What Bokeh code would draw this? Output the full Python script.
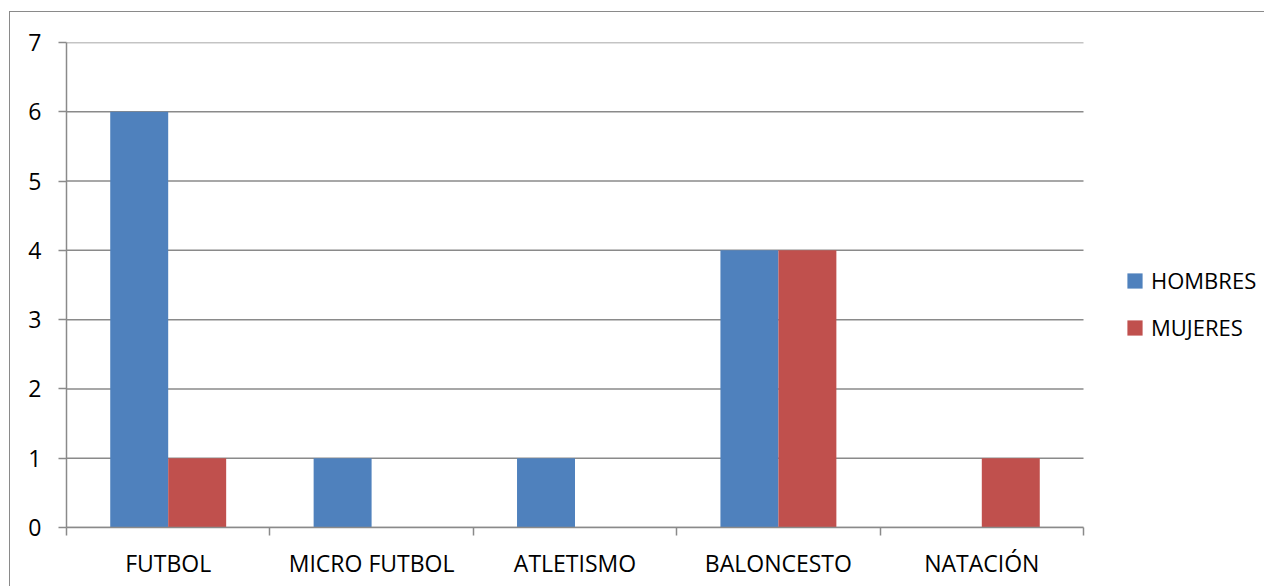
from bokeh.plotting import figure
from bokeh.models import (Range1d, FixedTicker, Legend, LegendItem)
from bokeh.embed import file_html
from bokeh.resources import INLINE

categories = ["FUTBOL", "MICRO FUTBOL", "ATLETISMO", "BALONCESTO", "NATACIÓN"]
hombres = [6, 1, 1, 4, 0]
mujeres = [1, 0, 0, 4, 1]
y_ticks = [0, 1, 2, 3, 4, 5, 6, 7]

FONT = "Open Sans"
FS = "23px"
GRID = "#8a8a8a"
BLUE = "#4F81BD"
RED = "#C0504D"

n = len(categories)
# frame extends under the legend area; the category area covers 0..n
x_end = n * (1254 - 56) / 1017.0

p = figure(width=1254, height=574, output_backend="svg", toolbar_location=None,
           x_range=Range1d(0, x_end), y_range=Range1d(0, 7),
           min_border_left=56, min_border_right=0, min_border_top=30,
           min_border_bottom=59)
p.margin = (12, 0, 0, 10)
p.styles = {"outline": "1.5px solid #8a8a8a"}
p.outline_line_color = None
p.background_fill_color = "white"
p.border_fill_color = "white"

# horizontal grid lines over the category area only
p.segment(x0=[0] * len(y_ticks), x1=[n] * len(y_ticks), y0=y_ticks, y1=y_ticks,
          line_color=GRID, line_width=1.5)

centers = [i + 0.5 for i in range(n)]
off = 0.1425
bw = 0.285
r1 = p.vbar(x=[c - off for c in centers], top=hombres, width=bw, fill_color=BLUE, line_color=None)
r2 = p.vbar(x=[c + off for c in centers], top=mujeres, width=bw, fill_color=RED, line_color=None)

# x axis
xa = p.xaxis[0]
xa.bounds = (0, n)
xa.ticker = FixedTicker(ticks=centers, minor_ticks=list(range(n + 1)))
xa.major_label_overrides = {c: nm for c, nm in zip(centers, categories)}
xa.major_tick_line_color = None
xa.major_tick_out = 0
xa.major_tick_in = 0
xa.minor_tick_line_color = GRID
xa.minor_tick_line_width = 1.5
xa.minor_tick_out = 8
xa.minor_tick_in = 0
xa.axis_line_color = GRID
xa.axis_line_width = 1.5
xa.major_label_standoff = 11
xa.major_label_text_font = FONT
xa.major_label_text_font_size = FS
xa.major_label_text_color = "black"

# y axis
ya = p.yaxis[0]
ya.ticker = FixedTicker(ticks=y_ticks)
ya.minor_tick_line_color = None
ya.major_tick_line_color = GRID
ya.major_tick_line_width = 1.5
ya.major_tick_out = 8
ya.major_tick_in = 0
ya.axis_line_color = GRID
ya.axis_line_width = 1.5
ya.major_label_standoff = 17
ya.major_label_text_font = FONT
ya.major_label_text_font_size = FS
ya.major_label_text_color = "black"

p.xgrid.grid_line_color = None
p.ygrid.grid_line_color = None

legend = Legend(items=[LegendItem(label="HOMBRES", renderers=[r1]),
                       LegendItem(label="MUJERES", renderers=[r2])],
                location=(1059, 185), border_line_color=None, background_fill_alpha=0,
                padding=0, margin=0, spacing=17, glyph_width=19, glyph_height=19,
                label_standoff=7, label_text_font=FONT, label_text_font_size="22px",
                label_text_color="black")
p.add_layout(legend, "center")

open("out.html", "w").write(file_html(p, INLINE))
